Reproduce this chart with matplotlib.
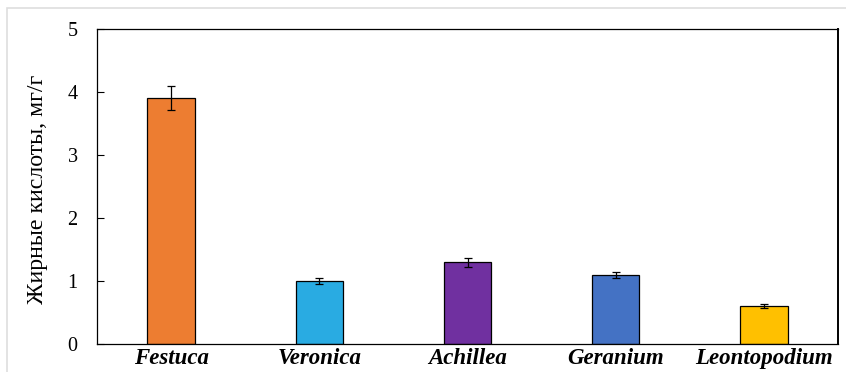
import matplotlib
matplotlib.use("Agg")
import matplotlib.pyplot as plt
from matplotlib.patches import Rectangle

# Fatty acid content by genus
genera = ["Festuca", "Veronica", "Achillea", "Geranium", "Leontopodium"]
fatty_acids = [3.9, 1.0, 1.3, 1.1, 0.6]
errors = [0.19, 0.05, 0.07, 0.05, 0.03]
bar_colors = ["#ED7D31", "#29ABE2", "#7030A0", "#4472C4", "#FFC000"]
y_ticks = [0, 1, 2, 3, 4, 5]

plt.rcParams["font.family"] = ["Liberation Serif", "DejaVu Serif"]

fig = plt.figure(figsize=(8.46, 3.72), dpi=100)
fig.patch.set_facecolor("white")

# light outer frame
fig.patches.append(Rectangle((7 / 846, -0.05), 1.2, (372 - 8) / 372 + 0.05,
                             transform=fig.transFigure, fill=False,
                             edgecolor="#dedede", linewidth=1.2))

ax = fig.add_axes([97 / 846, 28 / 372, (838 - 97) / 846, (344 - 29) / 372])
x = list(range(len(genera)))
ax.bar(x, fatty_acids, width=0.32, color=bar_colors, edgecolor="black",
       linewidth=0.9, zorder=2)
ax.errorbar(x, fatty_acids, yerr=errors, fmt="none", ecolor="black",
            elinewidth=0.9, capsize=3, capthick=0.9, zorder=3)

ax.set_xlim(-0.5, len(genera) - 0.5)
ax.set_ylim(0, 5)
ax.set_yticks(y_ticks)
ax.set_yticklabels([str(t) for t in y_ticks], fontsize=14.5)
ax.set_xticks(x)
ax.set_xticklabels(genera, fontsize=16.5, fontstyle="italic", fontweight="bold")
ax.tick_params(axis="y", direction="in", length=5, width=0.8, pad=14)
ax.tick_params(axis="x", length=0, pad=3)
for side in ["left", "bottom", "top"]:
    ax.spines[side].set_linewidth(0.9)
ax.spines["right"].set_linewidth(1.4)

ax.set_ylabel("Жирные кислоты, мг/г", fontsize=17.2)
ax.yaxis.set_label_coords(-0.066, 0.49)

fig.savefig("out.png", dpi=100)
